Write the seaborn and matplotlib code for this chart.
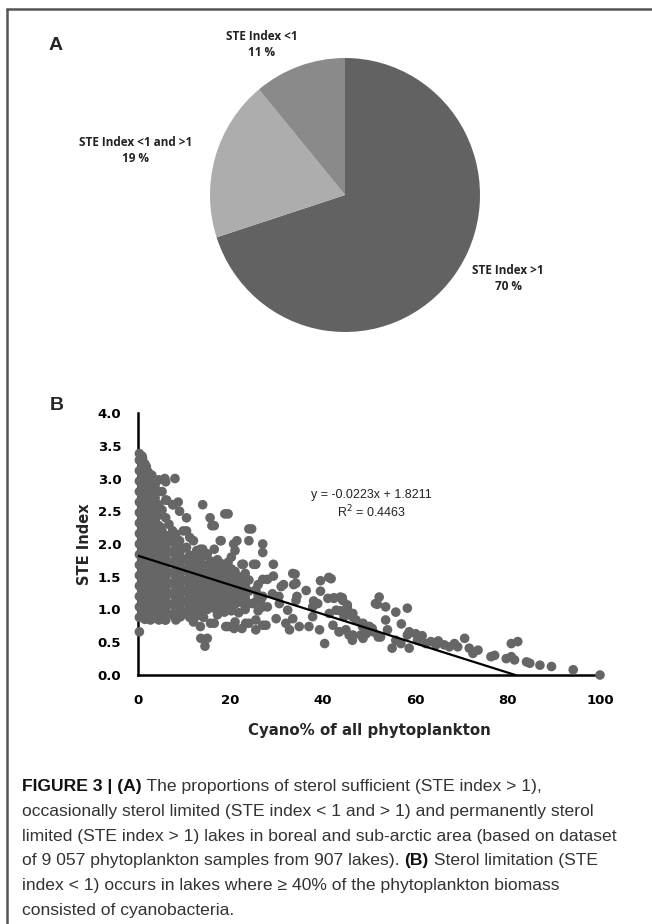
import matplotlib
matplotlib.use("Agg")
import matplotlib.pyplot as plt
import seaborn as sns
import numpy as np

# ---------------- data ----------------
# panel A: share of lakes per STE class
pie_labels = ["STE Index >1\n70 %", "STE Index <1 and >1\n19 %", "STE Index <1\n11 %"]
pie_values = [70, 19, 11]
pie_colors = ["#626262", "#adadad", "#8a8a8a"]

# panel B: dense core of the cloud (Cyano %, STE index), read column by column
core_x = (
    [0.3] * 18 + [1.5] * 16 + [3.0] * 15 + [4.5] * 14 + [6.0] * 12 + [7.5] * 10
    + [9.0] * 9 + [10.5] * 9 + [12.0] * 8 + [13.5] * 8 + [15.0] * 7 + [16.5] * 8
    + [18.0] * 6 + [19.5] * 7 + [21.0] * 6 + [22.5] * 5 + [24.0] * 6 + [25.5] * 4
    + [27.0] * 6
)
core_y = [
    0.66, 0.88, 1.04, 1.20, 1.36, 1.52, 1.68, 1.84, 2.00, 2.16, 2.32, 2.48, 2.64, 2.80, 2.96, 3.12, 3.28, 3.38,
    0.85, 1.01, 1.17, 1.33, 1.49, 1.65, 1.81, 1.97, 2.13, 2.29, 2.45, 2.61, 2.77, 2.93, 3.09, 3.22,
    0.86, 1.02, 1.18, 1.34, 1.50, 1.66, 1.82, 1.98, 2.14, 2.30, 2.46, 2.62, 2.78, 2.95, 3.05,
    0.84, 1.00, 1.16, 1.32, 1.48, 1.64, 1.80, 1.96, 2.12, 2.28, 2.44, 2.60, 2.80, 2.98,
    0.84, 1.00, 1.16, 1.32, 1.48, 1.64, 1.80, 1.96, 2.12, 2.40, 2.67, 2.95,
    0.92, 1.08, 1.24, 1.40, 1.56, 1.72, 1.88, 2.04, 2.20, 2.60,
    0.89, 1.05, 1.21, 1.37, 1.53, 1.69, 1.85, 2.05, 2.50,
    0.95, 1.11, 1.27, 1.43, 1.59, 1.75, 1.95, 2.20, 2.40,
    0.81, 0.98, 1.14, 1.30, 1.46, 1.62, 1.78, 2.05,
    0.74, 0.96, 1.12, 1.28, 1.44, 1.60, 1.76, 1.92,
    0.56, 1.00, 1.16, 1.32, 1.48, 1.64, 1.85,
    0.79, 1.02, 1.18, 1.34, 1.50, 1.66, 1.92, 2.28,
    1.04, 1.20, 1.36, 1.52, 1.70, 2.05,
    0.74, 1.05, 1.21, 1.37, 1.53, 1.72, 2.46,
    0.81, 1.08, 1.24, 1.40, 1.58, 1.90,
    0.71, 1.10, 1.26, 1.42, 1.69,
    0.79, 1.09, 1.28, 1.45, 2.05, 2.23,
    0.84, 1.12, 1.30, 1.69,
    0.76, 1.04, 1.20, 1.46, 1.87, 2.00,
]

# in-between columns of the core (the blob is solid there)
fill_x = (
    [0.9] * 16 + [2.2] * 14 + [3.7] * 13 + [5.2] * 11 + [6.7] * 9 + [8.2] * 9
    + [9.7] * 7 + [11.2] * 8 + [12.7] * 7 + [14.2] * 7 + [15.7] * 6 + [17.2] * 6
    + [18.7] * 5 + [20.2] * 6 + [21.8] * 4 + [23.2] * 4 + [26.0] * 3
)
fill_y = [
    0.96, 1.12, 1.28, 1.44, 1.60, 1.76, 1.92, 2.08, 2.24, 2.40, 2.56, 2.72, 2.88, 3.04, 3.20, 3.34,
    0.94, 1.10, 1.26, 1.42, 1.58, 1.74, 1.90, 2.06, 2.22, 2.38, 2.54, 2.70, 2.86, 3.10,
    0.92, 1.08, 1.24, 1.40, 1.56, 1.72, 1.88, 2.04, 2.20, 2.36, 2.52, 2.70, 2.90,
    0.92, 1.08, 1.24, 1.40, 1.56, 1.72, 1.88, 2.04, 2.20, 2.52, 2.80,
    0.92, 1.08, 1.24, 1.40, 1.56, 1.72, 1.88, 2.04, 2.30,
    0.84, 1.00, 1.16, 1.32, 1.48, 1.64, 1.80, 1.96, 2.15,
    0.97, 1.13, 1.29, 1.45, 1.61, 1.77, 1.93,
    0.88, 1.03, 1.19, 1.35, 1.51, 1.67, 1.83, 2.10,
    0.90, 1.06, 1.22, 1.38, 1.54, 1.70, 1.86,
    0.88, 1.04, 1.20, 1.36, 1.52, 1.68, 1.82,
    0.79, 1.08, 1.24, 1.40, 1.56, 1.74,
    0.92, 1.10, 1.26, 1.42, 1.58, 1.76,
    0.96, 1.12, 1.28, 1.44, 1.62,
    0.98, 1.14, 1.30, 1.46, 1.62, 1.80,
    0.95, 1.16, 1.32, 1.50,
    1.00, 1.18, 1.36, 1.55,
    0.98, 1.22, 1.38,
]

# loose points above / beside the core
upper_x = [1.0, 1.8, 2.5, 5.8, 8.0, 6.2, 7.6, 8.7, 5.0, 6.8, 8.3, 9.8, 14.0, 15.6, 16.0, 18.8,
           17.8, 12.7, 14.0, 20.7, 21.4, 24.6, 22.8, 25.0, 29.3, 14.5, 13.6, 2.7, 5.9, 9.2]
upper_y = [3.30, 3.18, 2.97, 3.00, 3.00, 2.67, 2.60, 2.64, 2.25, 2.13, 2.05, 2.20, 2.60, 2.40, 2.28, 2.46,
           2.05, 1.90, 1.92, 2.00, 2.05, 2.23, 1.69, 1.69, 1.69, 0.44, 0.56, 0.84, 0.84, 0.89]

# band along the trend line between ~28 and ~52 %
mid_x = [29.3, 28.0, 31.5, 34.0, 33.7, 34.4, 39.5, 41.3, 39.5, 38.0, 42.4, 44.2, 45.3, 43.8, 51.8,
         29.9, 32.0, 33.5, 34.9, 32.8, 37.0, 37.8, 39.3, 40.4, 42.2, 43.6, 45.0, 46.5, 48.7, 49.4,
         50.9, 52.0, 24.8, 26.6, 28.0, 29.1, 30.6, 31.0, 32.4, 34.2, 34.2, 36.4, 37.8, 38.9, 41.1,
         41.4, 42.9, 44.3, 46.5, 47.2, 48.7, 50.1, 41.8, 33.5, 23.3, 20.8, 19.0, 25.5, 27.7, 30.5]
mid_y = [1.51, 1.46, 1.38, 1.54, 1.38, 1.20, 1.44, 1.49, 1.28, 1.13, 1.18, 1.18, 1.03, 0.98, 1.08,
         0.86, 0.79, 0.86, 0.74, 0.69, 0.74, 0.89, 0.69, 0.48, 0.76, 0.66, 0.69, 0.61, 0.56, 0.63,
         0.66, 0.58, 1.09, 1.14, 1.04, 1.24, 1.09, 1.35, 0.99, 1.14, 1.40, 1.29, 1.04, 1.09, 1.17,
         0.94, 0.99, 1.14, 0.94, 0.84, 0.79, 0.74, 1.47, 1.55, 0.79, 0.71, 0.74, 0.69, 0.76, 1.20]

# right-hand tail, cyanobacteria dominated lakes
tail_x = [42.4, 43.8, 44.9, 45.3, 44.6, 46.4, 43.5, 45.7, 46.4, 48.2, 48.6, 50.0, 50.7, 51.4, 52.2,
          53.6, 55.8, 58.3, 53.6, 52.5, 54.0, 55.0, 55.8, 56.9, 58.3, 58.7, 58.7, 60.1, 60.5, 62.3,
          63.4, 64.5, 66.3, 67.4, 68.5, 69.2, 70.7, 71.7, 72.5, 73.6, 76.4, 77.2, 80.8, 82.2, 79.7,
          80.8, 81.5, 84.1, 84.8, 87.0, 89.5, 94.2, 100.0, 57.0, 61.5, 65.0]
tail_y = [1.17, 1.19, 0.99, 1.07, 0.89, 0.89, 0.66, 0.61, 0.53, 0.61, 0.74, 0.74, 0.71, 1.09, 1.19,
          1.04, 0.96, 1.02, 0.84, 0.58, 0.69, 0.41, 0.53, 0.48, 0.61, 0.41, 0.66, 0.63, 0.53, 0.48,
          0.51, 0.46, 0.46, 0.43, 0.48, 0.43, 0.56, 0.41, 0.33, 0.38, 0.28, 0.30, 0.48, 0.51, 0.25,
          0.28, 0.23, 0.20, 0.18, 0.15, 0.13, 0.08, 0.00, 0.78, 0.60, 0.52]

# linear trendline reported in the panel
trend_slope = -0.0223
trend_intercept = 1.8211
trend_r2 = 0.4463

caption_lines = [
    [("FIGURE 3 | (A)", "bold"), (" The proportions of sterol sufficient (STE index > 1),", "normal")],
    [("occasionally sterol limited (STE index < 1 and > 1) and permanently sterol", "normal")],
    [("limited (STE index > 1) lakes in boreal and sub-arctic area (based on dataset", "normal")],
    [("of 9 057 phytoplankton samples from 907 lakes). ", "normal"), ("(B)", "bold"),
     (" Sterol limitation (STE", "normal")],
    [("index < 1) occurs in lakes where \u2265 40% of the phytoplankton biomass", "normal")],
    [("consisted of cyanobacteria.", "normal")],
]

# ---------------- figure ----------------
sns.set_style("white")
plt.rcParams["font.family"] = ["Liberation Sans", "DejaVu Sans"]

W, H = 652, 924
fig = plt.figure(figsize=(W / 100, H / 100), dpi=100)


def fx(px):
    return px / W


def fy(py):
    return 1 - py / H


# frame lines (left and top)
fig.add_artist(plt.Line2D([fx(7), fx(7)], [fy(9), 0], color="#555555", lw=1.8))
fig.add_artist(plt.Line2D([fx(7), 1], [fy(9), fy(9)], color="#555555", lw=1.8))

# ---- panel A: pie ----
fig.text(fx(49), fy(45), "A", fontsize=14, fontweight="bold", va="center", ha="left")
cx, cy, rx, ry = 345, 195, 135, 137
ax_pie = fig.add_axes([fx(cx - rx), fy(cy + ry), fx(2 * rx), (2 * ry) / H])
ax_pie.pie(pie_values, colors=pie_colors, startangle=90, counterclock=False,
           wedgeprops=dict(linewidth=0))
ax_pie.set_aspect("auto")
ax_pie.set_xlim(-1, 1)
ax_pie.set_ylim(-1, 1)
ax_pie.axis("off")

label_pos = [(508, 279), (136, 151), (262, 45)]
for lab, (px, py) in zip(pie_labels, label_pos):
    fig.text(fx(px), fy(py), lab, fontsize=8.5, fontweight="bold", family=["Open Sans", "DejaVu Sans"],
             ha="center", va="center", color="#222222", linespacing=1.3)

# ---- panel B: scatter ----
fig.text(fx(50), fy(405), "B", fontsize=14, fontweight="bold", va="center", ha="left")
ax = fig.add_axes([fx(138), fy(675), fx(600 - 138), 262 / H])

xs = np.array(core_x + fill_x + upper_x + mid_x + tail_x)
ys = np.array(core_y + fill_y + upper_y + mid_y + tail_y)
sns.scatterplot(x=xs, y=ys, ax=ax, color="#666666", s=48, edgecolor="none", linewidth=0,
                clip_on=False, zorder=3)

x_end = -trend_intercept / trend_slope
line_x = np.array([0, x_end])
sns.lineplot(x=line_x, y=trend_intercept + trend_slope * line_x, ax=ax, color="black", lw=1.6,
             zorder=4)

ax.set_xlim(0, 100)
ax.set_ylim(0, 4)
ax.set_xticks([0, 20, 40, 60, 80, 100])
ax.set_yticks(np.arange(0, 4.01, 0.5))
ax.set_yticklabels([f"{v:.1f}" for v in np.arange(0, 4.01, 0.5)])
for side in ["top", "right"]:
    ax.spines[side].set_visible(False)
for side in ["left", "bottom"]:
    ax.spines[side].set_linewidth(1.8)
    ax.spines[side].set_color("black")
ax.tick_params(axis="both", direction="out", length=4, width=1.8, colors="black",
               labelsize=9.5)
ax.tick_params(axis="x", pad=10)
ax.tick_params(axis="y", pad=8)
heavy = ["DejaVu Sans"]
for t in ax.get_xticklabels() + ax.get_yticklabels():
    t.set_fontweight("bold")
    t.set_family(heavy)
ax.set_xlabel("Cyano% of all phytoplankton", fontsize=10.8, fontweight="bold", family=heavy,
              labelpad=11)
ax.set_ylabel("STE Index", fontsize=10.5, fontweight="bold", family=heavy, labelpad=4)
ax.grid(False)

ax.text(0.505, 0.687, f"y = {trend_slope}x + {trend_intercept}", transform=ax.transAxes,
        fontsize=9, color="#222222", ha="center", va="center")
ax.text(0.505, 0.622, f"R$^2$ = {trend_r2}", transform=ax.transAxes,
        fontsize=9, color="#222222", ha="center", va="center")

# ---- caption ----
cap_family = ["Liberation Sans", "DejaVu Sans"]
renderer = fig.canvas.get_renderer()
y0 = 787
for i, parts in enumerate(caption_lines):
    x_px = 22
    for txt, weight in parts:
        color = "#111111" if weight == "bold" else "#333333"
        t = fig.text(fx(x_px), fy(y0 + i * 24.6), txt, fontsize=12.6, fontweight=weight,
                     family=cap_family, color=color, va="center", ha="left")
        bb = t.get_window_extent(renderer=renderer)
        x_px += bb.width

fig.savefig("out.png", dpi=100)
